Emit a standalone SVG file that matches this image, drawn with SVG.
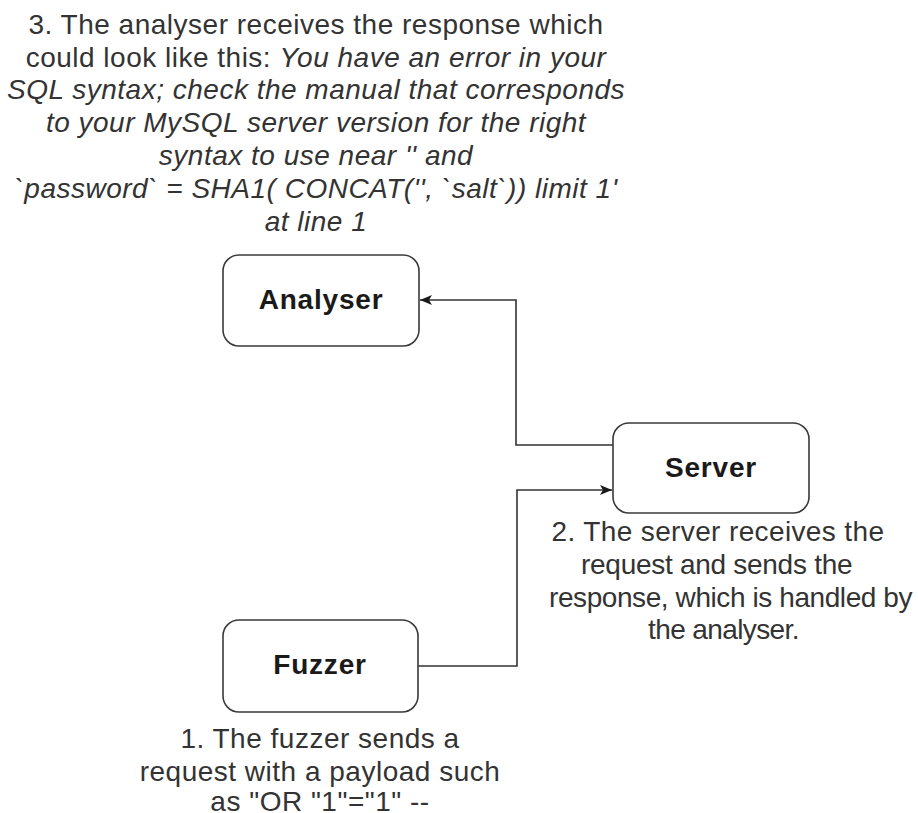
<svg xmlns="http://www.w3.org/2000/svg" width="918" height="813" viewBox="0 0 918 813">
  <style>
    .box { fill: #ffffff; stroke: #3a3a3a; stroke-width: 1.6; }
    .name { font-family: "Liberation Sans", Arial, sans-serif; font-weight: bold; font-size: 28px; letter-spacing: 0.8px; fill: #1a1a1a; text-anchor: middle; }
    .note { font-family: "Liberation Sans", Arial, sans-serif; font-size: 28px; letter-spacing: 0.5px; fill: #333333; text-anchor: middle; }
    .em { font-style: italic; }
    .edge { fill: none; stroke: #333333; stroke-width: 1.6; }
  </style>
  <defs>
    <marker id="arrow" viewBox="0 0 12 10" refX="12" refY="5" markerWidth="12" markerHeight="10" markerUnits="userSpaceOnUse" orient="auto">
      <path d="M0,0 L12,5 L0,10 L3,5 Z" fill="#1a1a1a"/>
    </marker>
  </defs>
  <rect width="918" height="813" fill="#ffffff"/>

  <!-- connectors -->
  <g id="connectors">
    <path class="edge" d="M613,445 H516 V300 H420" marker-end="url(#arrow)"/>
    <path class="edge" d="M418,666 H517 V490 H612" marker-end="url(#arrow)"/>
  </g>

  <!-- Analyser node with step 3 annotation -->
  <g id="analyser">
    <rect class="box" x="223" y="255" width="196" height="91" rx="16"/>
    <text class="name" x="321" y="309">Analyser</text>
  </g>
  <g id="note-analyser">
    <text class="note" x="316" y="34">3. The analyser receives the response which</text>
    <text class="note" x="316" y="67">could look like this: <tspan class="em">You have an error in your</tspan></text>
    <text class="note em" x="316" y="99">SQL syntax; check the manual that corresponds</text>
    <text class="note em" x="316" y="132">to your MySQL server version for the right</text>
    <text class="note em" x="316" y="165">syntax to use near '' and</text>
    <text class="note em" x="316" y="198">`password` = SHA1( CONCAT('', `salt`)) limit 1'</text>
    <text class="note em" x="316" y="231">at line 1</text>
  </g>

  <!-- Server node with step 2 annotation -->
  <g id="server">
    <rect class="box" x="613" y="423" width="196" height="90" rx="16"/>
    <text class="name" x="711" y="477">Server</text>
  </g>
  <g id="note-server">
    <text class="note" x="718" y="541" textLength="333" lengthAdjust="spacing">2. The server receives the</text>
    <text class="note" x="717" y="574" textLength="272" lengthAdjust="spacing">request and sends the</text>
    <text class="note" x="731" y="607" textLength="364" lengthAdjust="spacing">response, which is handled by</text>
    <text class="note" x="724" y="639" textLength="152" lengthAdjust="spacing">the analyser.</text>
  </g>

  <!-- Fuzzer node with step 1 annotation -->
  <g id="fuzzer">
    <rect class="box" x="223" y="620" width="195" height="92" rx="16"/>
    <text class="name" x="320" y="674">Fuzzer</text>
  </g>
  <g id="note-fuzzer">
    <text class="note" x="320" y="748">1. The fuzzer sends a</text>
    <text class="note" x="320" y="781">request with a payload such</text>
    <text class="note" x="320" y="811">as "OR "1"="1" --</text>
  </g>
</svg>
